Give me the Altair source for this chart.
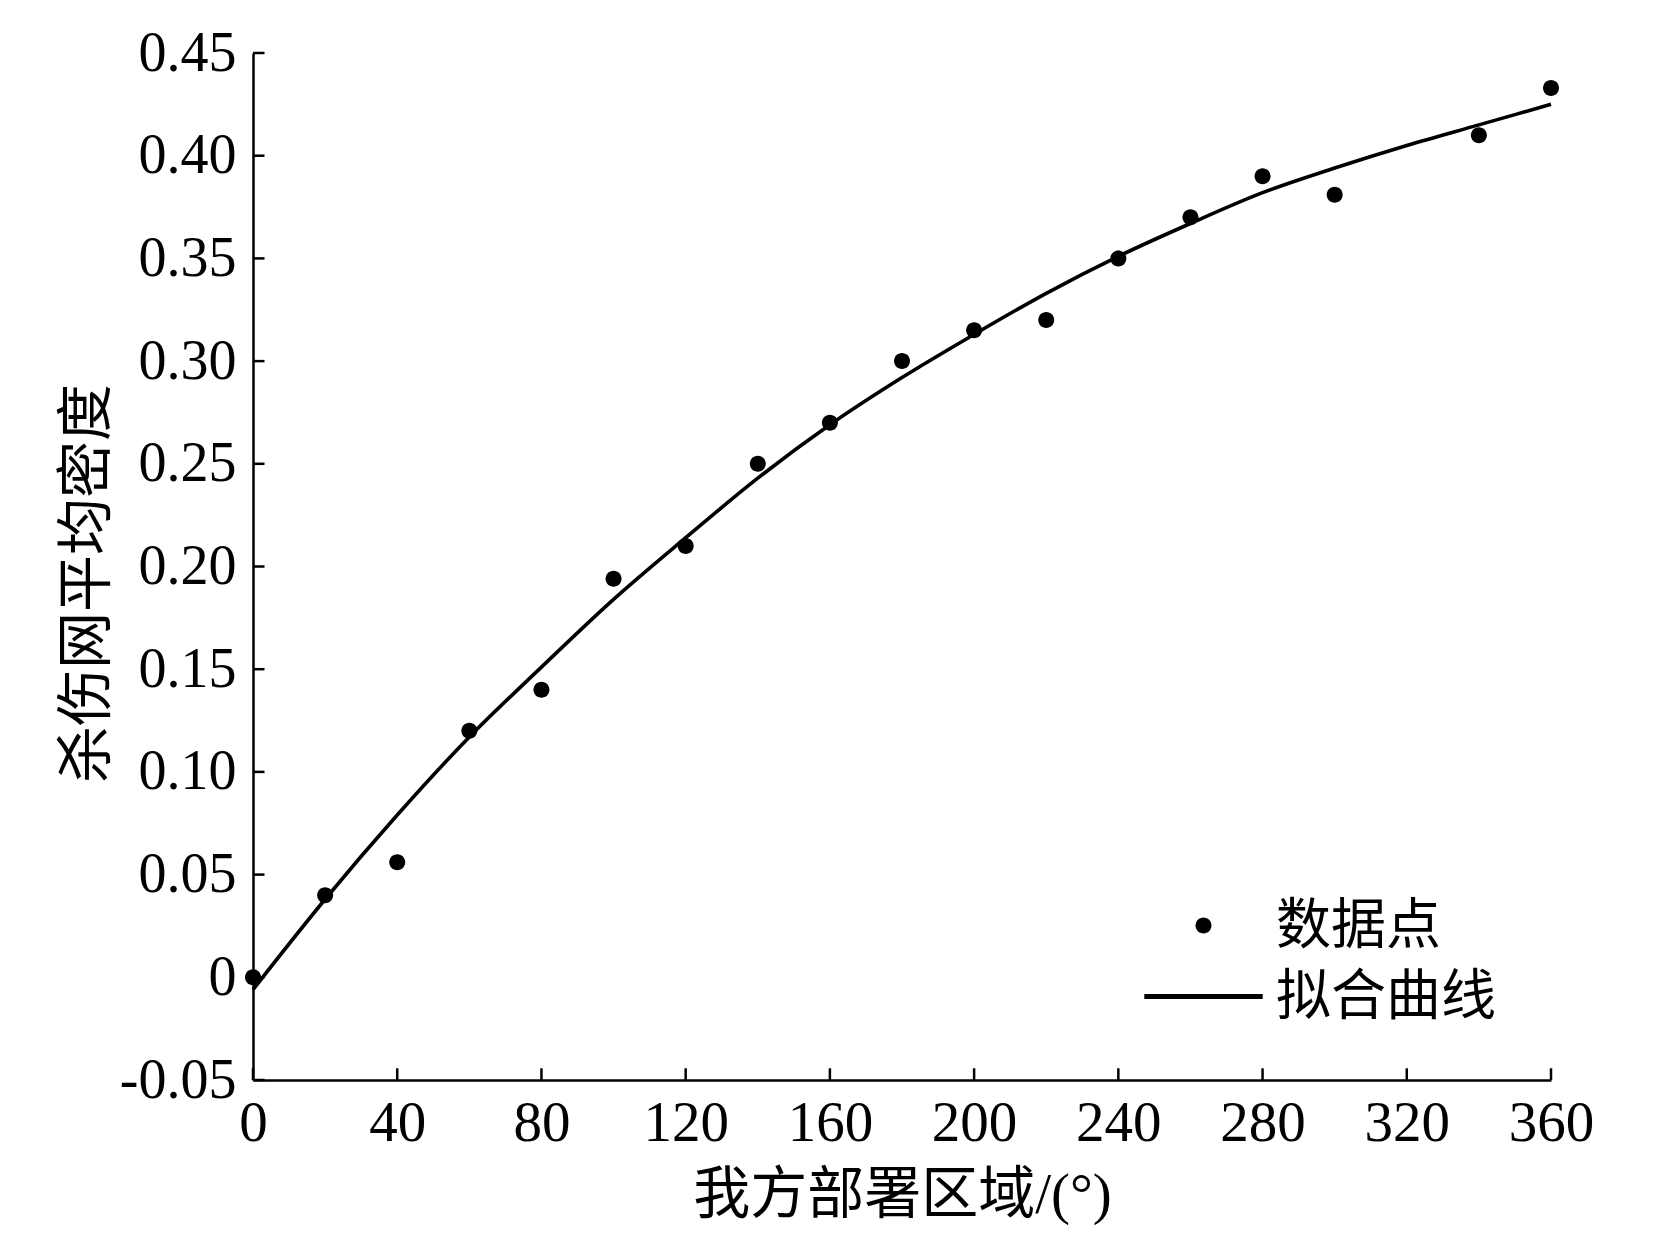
import altair as alt
import pandas as pd

# ---- data ----
deg = [0, 20, 40, 60, 80, 100, 120, 140, 160, 180, 200, 220, 240, 260, 280, 300, 340, 360]
density = [0.0, 0.040, 0.056, 0.120, 0.140, 0.194, 0.210, 0.250, 0.270, 0.300,
           0.315, 0.320, 0.350, 0.370, 0.390, 0.381, 0.410, 0.433]

fit_deg = [0, 20, 40, 60, 80, 100, 120, 140, 160, 180, 200, 220, 240, 260, 280, 300, 320, 340, 360]
fit_val = [-0.006, 0.038, 0.079, 0.117, 0.151, 0.184, 0.214, 0.243, 0.269, 0.292,
           0.313, 0.333, 0.351, 0.367, 0.382, 0.394, 0.405, 0.415, 0.425]

x_ticks = [0, 40, 80, 120, 160, 200, 240, 280, 320, 360]
y_ticks = [-0.05, 0.0, 0.05, 0.10, 0.15, 0.20, 0.25, 0.30, 0.35, 0.40, 0.45]
legend_labels = ["数据点", "拟合曲线"]

x_title = "我方部署区域/(°)"
y_title = "杀伤网平均密度"

# ---- styling ----
W, H = 1298, 1027
SERIF = "Liberation Serif"
CJK = "Liberation Serif, Noto Sans CJK SC"
CIRCLE = "M1,0A1,1,0,1,1,-1,0A1,1,0,1,1,1,0Z"
LINE = "M-7.4,-0.3H7.4V0.3H-7.4Z"

pts_df = pd.DataFrame({"deg": deg, "density": density, "series": legend_labels[0]})
fit_df = pd.DataFrame({"deg": fit_deg, "density": fit_val})
xt_df = pd.DataFrame({"deg": x_ticks})
yt_df = pd.DataFrame({"density": y_ticks})

xscale = alt.Scale(domain=[0, 360], nice=False, zero=False)
yscale = alt.Scale(domain=[-0.05, 0.45], nice=False, zero=False)

x_axis = alt.Axis(
    values=x_ticks, ticks=False, tickSize=0, grid=False,
    domainColor="black", domainWidth=2.5,
    labelFont=SERIF, labelFontSize=57, labelColor="black", labelPadding=15,
    labelFlush=False, labelOverlap=False, format="d",
    title=x_title, titleFont=CJK, titleFontSize=57, titleFontWeight="normal",
    titleColor="black", titleBaseline="alphabetic", titleY=132,
)
y_axis = alt.Axis(
    values=y_ticks, ticks=False, tickSize=0, grid=False,
    domainColor="black", domainWidth=2.5,
    labelFont=SERIF, labelFontSize=56, labelColor="black", labelPadding=17,
    labelFlush=False, labelOverlap=False,
    labelExpr="datum.value == 0 ? '0' : (datum.value < 0 ? '-' + format(-datum.value, '.2f') : format(datum.value, '.2f'))",
    title=y_title, titleFont=CJK, titleFontSize=57, titleFontWeight="normal",
    titleColor="black", titleAngle=270, titleBaseline="middle",
    titleX=-166, titleY=530,
)

X = alt.X("deg:Q", scale=xscale, axis=x_axis)
Y = alt.Y("density:Q", scale=yscale, axis=y_axis)

legend = alt.Legend(
    title=None, orient="none", legendX=923, legendY=845, padding=0,
    labelFont=CJK, labelFontSize=55, labelColor="black", labelOffset=45,
    labelLimit=0, rowPadding=15, symbolSize=256,
    symbolFillColor="black", symbolOpacity=1,
)

points = alt.Chart(pts_df).mark_point(
    filled=True, color="black", size=256, opacity=1
).encode(
    x=X, y=Y,
    shape=alt.Shape("series:N", scale=alt.Scale(domain=legend_labels, range=[CIRCLE, LINE]), legend=legend),
)

fit = alt.Chart(fit_df).mark_line(color="black", strokeWidth=3.6, interpolate="monotone").encode(x=X, y=Y)

xticks = alt.Chart(xt_df).mark_rule(color="black", strokeWidth=2.5).encode(
    x=X,
    y=alt.value(H),
    y2=alt.value(H - 11.7),
)
yticks = alt.Chart(yt_df).mark_rule(color="black", strokeWidth=2.5).encode(
    y=Y,
    x=alt.value(0),
    x2=alt.value(11.5),
)

chart = alt.layer(points, fit, xticks, yticks).properties(
    width=W, height=H,
    autosize="none",
    padding={"left": 245, "top": 45, "right": 100, "bottom": 150},
    background="white",
).configure_view(stroke=None)

chart.save("out.html", embed_options={"renderer": "svg", "actions": False})
